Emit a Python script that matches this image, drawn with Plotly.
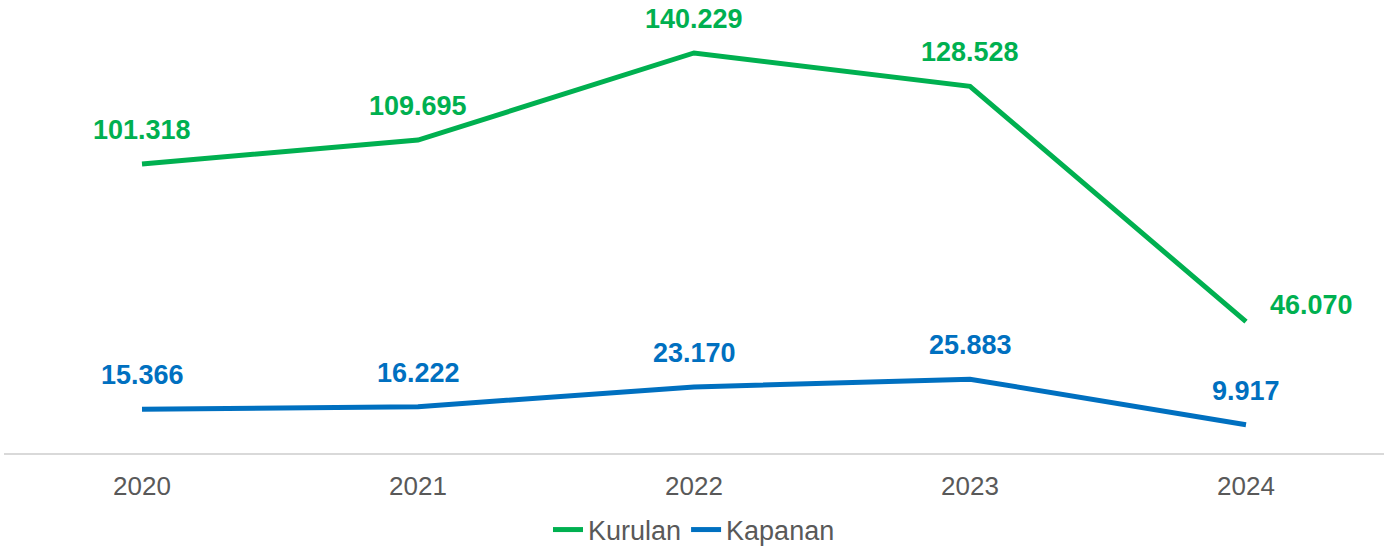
import plotly.graph_objs as go

green = "#00B050"
blue = "#0070C0"
grey_text = "#595959"

years = ["2020", "2021", "2022", "2023", "2024"]
kurulan = [101.318, 109.695, 140.229, 128.528, 46.070]
kapanan = [15.366, 16.222, 23.170, 25.883, 9.917]

kurulan_labels = ["101.318", "109.695", "140.229", "128.528", "46.070"]
kapanan_labels = ["15.366", "16.222", "23.170", "25.883", "9.917"]

font_family = "Liberation Sans, Arial, sans-serif"

fig = go.Figure()

fig.add_trace(
    go.Scatter(
        x=years,
        y=kurulan,
        name="Kurulan",
        mode="lines",
        line=dict(width=5, color=green),
    )
)
fig.add_trace(
    go.Scatter(
        x=years,
        y=kapanan,
        name="Kapanan",
        mode="lines",
        line=dict(width=5, color=blue),
    )
)

# data labels; annotation x given as category index (a "2020" string is read as index 2020)
for i, (val, lab) in enumerate(zip(kurulan, kurulan_labels)):
    last = i == len(years) - 1
    fig.add_annotation(
        x=i, y=val, text=lab, showarrow=False,
        xshift=65 if last else 0, yshift=17 if last else 34,
        font=dict(family=font_family, size=27, color=green, weight="bold"),
    )
for i, (val, lab) in enumerate(zip(kapanan, kapanan_labels)):
    fig.add_annotation(
        x=i, y=val, text=lab, showarrow=False, yshift=34,
        font=dict(family=font_family, size=27, color=blue, weight="bold"),
    )

fig.update_xaxes(
    type="category",
    range=[-0.5, len(years) - 0.5],
    showgrid=False,
    showline=True,
    linecolor="#D9D9D9",
    linewidth=2,
    ticks="outside",
    ticklen=9,
    tickcolor="white",
    tickfont=dict(family=font_family, size=26, color=grey_text),
    automargin=False,
)
fig.update_yaxes(visible=False, range=[0, 158.8], showgrid=False, zeroline=False,
                 automargin=False)

fig.update_layout(
    width=1394,
    height=551,
    margin=dict(l=4, r=10, t=0, b=98, autoexpand=False),
    plot_bgcolor="white",
    paper_bgcolor="white",
    showlegend=True,
    legend=dict(
        orientation="h",
        x=0.5,
        xanchor="center",
        y=-0.17,
        yanchor="middle",
        font=dict(family=font_family, size=27, color=grey_text),
    ),
)

# page body has a default 8px margin; drop it so the figure fills the window
fig.write_html(
    "out.html",
    config={"displayModeBar": False},
    post_script="document.body.style.margin='0';",
)
